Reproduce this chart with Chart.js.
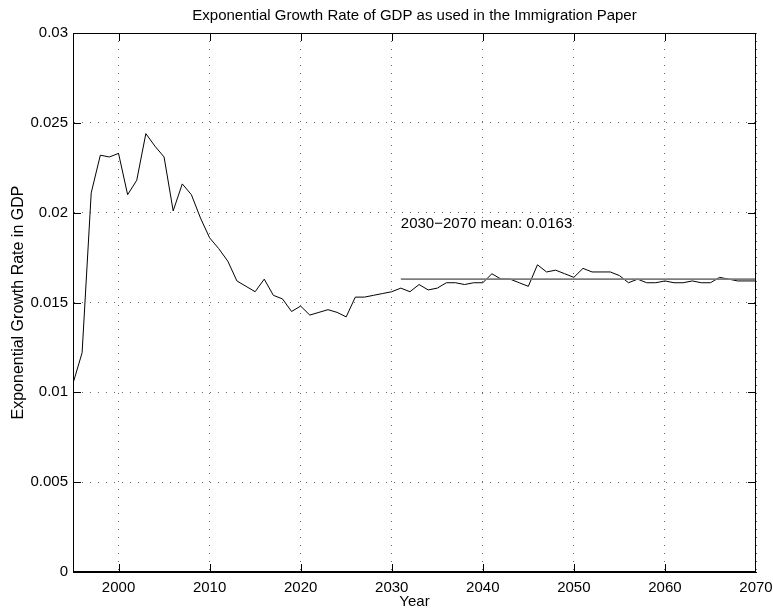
<!DOCTYPE html>
<html>
<head>
<meta charset="utf-8">
<title>Exponential Growth Rate of GDP</title>
<script src="https://cdn.jsdelivr.net/npm/chart.js@4/dist/chart.umd.min.js"></script>
<style>
  html, body { margin: 0; padding: 0; background: #ffffff; }
  canvas { display: block; }
</style>
</head>
<body>
<canvas id="growth" width="773" height="609"></canvas>
<script>
// Annual exponential growth rate of GDP, 1995-2070
const years = [
  1995, 1996, 1997, 1998, 1999, 2000, 2001, 2002, 2003, 2004,
  2005, 2006, 2007, 2008, 2009, 2010, 2011, 2012, 2013, 2014,
  2015, 2016, 2017, 2018, 2019, 2020, 2021, 2022, 2023, 2024,
  2025, 2026, 2027, 2028, 2029, 2030, 2031, 2032, 2033, 2034,
  2035, 2036, 2037, 2038, 2039, 2040, 2041, 2042, 2043, 2044,
  2045, 2046, 2047, 2048, 2049, 2050, 2051, 2052, 2053, 2054,
  2055, 2056, 2057, 2058, 2059, 2060, 2061, 2062, 2063, 2064,
  2065, 2066, 2067, 2068, 2069, 2070
];
const growthRate = [
  0.0105, 0.0122, 0.0211, 0.0232, 0.0231, 0.0233, 0.0210, 0.0218, 0.0244, 0.0237,
  0.0231, 0.0201, 0.0216, 0.0210, 0.0197, 0.0186, 0.0180, 0.0173, 0.0162, 0.0159,
  0.0156, 0.0163, 0.0154, 0.0152, 0.0145, 0.0148, 0.0143, 0.01445, 0.0146, 0.01445,
  0.0142, 0.0153, 0.0153, 0.0154, 0.0155, 0.0156, 0.0158, 0.0156, 0.0160, 0.0157,
  0.0158, 0.0161, 0.0161, 0.0160, 0.0161, 0.0161, 0.0166, 0.0163, 0.0163, 0.0161,
  0.0159, 0.0171, 0.0167, 0.0168, 0.0166, 0.0164, 0.0169, 0.0167, 0.0167, 0.0167,
  0.0165, 0.0161, 0.0163, 0.0161, 0.0161, 0.0162, 0.0161, 0.0161, 0.0162, 0.0161,
  0.0161, 0.0164, 0.0163, 0.0162, 0.0162, 0.0162
];

// Long-run mean over the projection period
const meanPeriod = [2030, 2070];
const meanLineYears = [2031, 2070];
const meanValue = 0.0163;
const meanLabelPos = [2031, 0.0194];

// Axes
const xRange = [1995, 2070];
const yRange = [0, 0.03];
const xTickValues = [2000, 2010, 2020, 2030, 2040, 2050, 2060, 2070];
const yTickValues = [0, 0.005, 0.01, 0.015, 0.02, 0.025, 0.03];
const yTickLabels = ['0', '0.005', '0.01', '0.015', '0.02', '0.025', '0.03'];

const titleText = 'Exponential Growth Rate of GDP as used in the Immigration Paper';
const xTitle = 'Year';
const yTitle = 'Exponential Growth Rate in GDP';

const FONT = '"Liberation Sans", Arial, Helvetica, sans-serif';
Chart.defaults.font.family = FONT;
Chart.defaults.color = '#000000';

const seriesPoints = years.map((yr, i) => ({ x: yr, y: growthRate[i] }));
const meanPoints = meanLineYears.map(yr => ({ x: yr, y: meanValue }));

// Solid box round the plot area with inward tick marks on all four sides,
// plus the text note for the mean line. Drawn as 1px filled rectangles so
// the edges stay crisp on top of the dotted grid.
const frameAndNote = {
  id: 'frameAndNote',
  afterDraw(chart) {
    const ctx = chart.ctx;
    const a = chart.chartArea;
    const xs = chart.scales.x, ys = chart.scales.y;
    const tickLen = 7;
    const L = Math.round(a.left), R = Math.round(a.right) - 1;
    const T = Math.round(a.top), B = Math.round(a.bottom) - 1;
    ctx.save();
    ctx.fillStyle = '#000000';
    ctx.fillRect(L, T, R - L + 1, 1);
    ctx.fillRect(L, B, R - L + 1, 1);
    ctx.fillRect(L, T, 1, B - T + 1);
    ctx.fillRect(R, T, 1, B - T + 1);
    xTickValues.forEach(v => {
      const px = Math.min(Math.round(xs.getPixelForValue(v)), R);
      ctx.fillRect(px, B - tickLen, 1, tickLen);
      ctx.fillRect(px, T + 1, 1, tickLen);
    });
    yTickValues.forEach(v => {
      const py = Math.min(Math.round(ys.getPixelForValue(v)), B);
      ctx.fillRect(L + 1, py, tickLen, 1);
      ctx.fillRect(R - tickLen, py, tickLen, 1);
    });

    ctx.font = '15px ' + FONT;
    ctx.textAlign = 'left';
    ctx.textBaseline = 'middle';
    const note = meanPeriod[0] + '\u2212' + meanPeriod[1] + ' mean: ' + meanValue;
    ctx.fillText(note, xs.getPixelForValue(meanLabelPos[0]), ys.getPixelForValue(meanLabelPos[1]));
    ctx.restore();
  }
};

const gridStyle = { color: '#6a6a6a', lineWidth: 1, drawTicks: false };

new Chart(document.getElementById('growth'), {
  type: 'line',
  data: {
    datasets: [
      {
        label: 'mean',
        data: meanPoints,
        borderColor: '#7c7c7c',
        borderWidth: 1.6,
        pointRadius: 0,
        tension: 0
      },
      {
        label: 'growth rate',
        data: seriesPoints,
        borderColor: '#000000',
        borderWidth: 1,
        pointRadius: 0,
        tension: 0
      }
    ]
  },
  options: {
    responsive: false,
    animation: false,
    devicePixelRatio: 1,
    layout: { padding: { left: 0, right: 17, top: 0, bottom: 0 } },
    plugins: {
      legend: { display: false },
      tooltip: { enabled: false },
      title: { display: false }
    },
    scales: {
      x: {
        type: 'linear',
        position: 'bottom',
        min: xRange[0],
        max: xRange[1],
        afterBuildTicks: s => { s.ticks = xTickValues.map(v => ({ value: v })); },
        afterFit: s => { s.height = 37; s.paddingLeft = 0; s.paddingRight = 0; },
        ticks: {
          font: { size: 15 },
          padding: 7,
          maxRotation: 0,
          autoSkip: false,
          callback: v => String(v)
        },
        grid: gridStyle,
        border: { display: true, color: '#000000', width: 1, dash: [1, 7] },
        title: {
          display: true,
          text: xTitle,
          font: { size: 15 },
          padding: { top: 0, bottom: -2 }
        }
      },
      xTop: {
        type: 'linear',
        position: 'top',
        min: xRange[0],
        max: xRange[1],
        afterFit: s => { s.height = 33; s.paddingLeft = 0; s.paddingRight = 0; },
        ticks: { display: false },
        grid: { display: false, drawTicks: false },
        border: { display: false },
        title: {
          display: true,
          text: titleText,
          font: { size: 15 },
          padding: { top: 7, bottom: 0 }
        }
      },
      y: {
        type: 'linear',
        position: 'left',
        min: yRange[0],
        max: yRange[1],
        afterBuildTicks: s => { s.ticks = yTickValues.map(v => ({ value: v })); },
        afterFit: s => { s.width = 73; s.paddingTop = 0; s.paddingBottom = 0; },
        ticks: {
          font: { size: 15 },
          padding: 5,
          autoSkip: false,
          callback: (v, i) => yTickLabels[i]
        },
        grid: gridStyle,
        border: { display: true, color: '#000000', width: 1, dash: [1, 7] },
        title: {
          display: true,
          text: yTitle,
          font: { size: 16 },
          padding: { top: 9, bottom: 0 }
        }
      }
    }
  },
  plugins: [frameAndNote]
});
</script>
</body>
</html>
